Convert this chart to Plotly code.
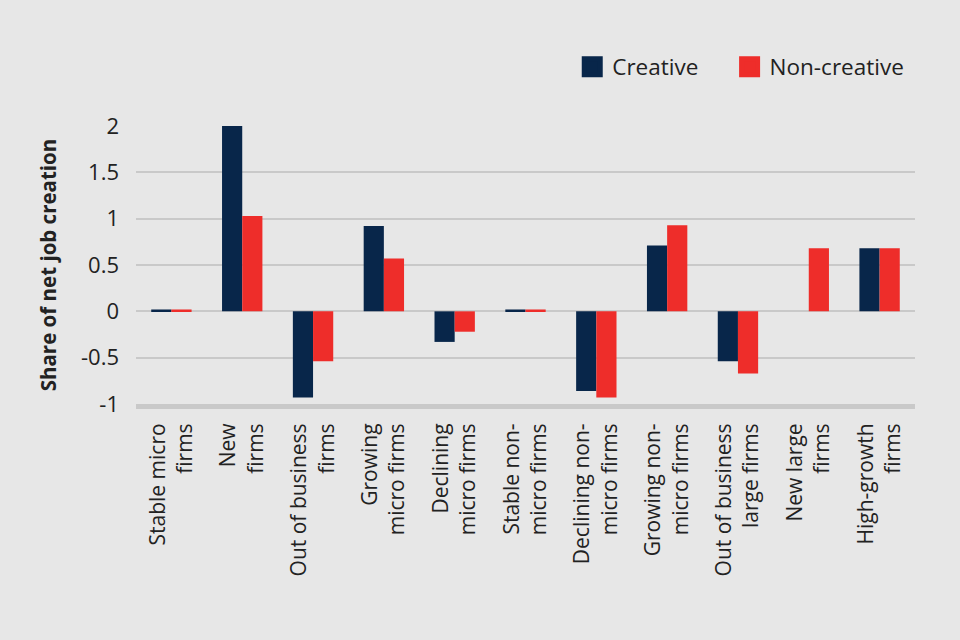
import plotly.graph_objects as go

categories = [
    "Stable micro<br>firms",
    "New<br>firms",
    "Out of business<br>firms",
    "Growing<br>micro firms",
    "Declining<br>micro firms",
    "Stable non-<br>micro firms",
    "Declining non-<br>micro firms",
    "Growing non-<br>micro firms",
    "Out of business<br>large firms",
    "New large<br>firms",
    "High-growth<br>firms",
]
creative = [0.02, 2.0, -0.93, 0.92, -0.33, 0.02, -0.86, 0.71, -0.54, 0.0, 0.68]
non_creative = [0.02, 1.03, -0.54, 0.57, -0.22, 0.02, -0.93, 0.93, -0.67, 0.68, 0.68]
y_ticks = [-1, -0.5, 0, 0.5, 1, 1.5, 2]
y_tick_labels = ["-1", "-0.5", "0", "0.5", "1", "1.5", "2"]

NAVY = "#08264a"
RED = "#ee2d2a"
BG = "#e7e7e7"
GRID = "#c9c9c9"
FONT = "Open Sans"
TEXT = "#222222"

fig = go.Figure()
fig.add_trace(go.Bar(x=categories, y=creative, name="Creative",
                     marker=dict(color=NAVY, line=dict(width=0)), showlegend=False))
fig.add_trace(go.Bar(x=categories, y=non_creative, name="Non-creative",
                     marker=dict(color=RED, line=dict(width=0)), showlegend=False))
# legend entries (one legend each, so they can be spaced like the reference)
fig.add_trace(go.Scatter(x=[None], y=[None], mode="markers", name="Creative",
                         legend="legend",
                         marker=dict(symbol="square", size=16, color=NAVY,
                                     line=dict(color=NAVY, width=5))))
fig.add_trace(go.Scatter(x=[None], y=[None], mode="markers", name="Non-creative",
                         legend="legend2",
                         marker=dict(symbol="square", size=16, color=RED,
                                     line=dict(color=RED, width=5))))

legend_common = dict(orientation="h", xanchor="left", y=1.212, yanchor="middle",
                     font=dict(size=22.5, color=TEXT), bgcolor="rgba(0,0,0,0)",
                     itemwidth=30)

fig.update_layout(
    width=960, height=640,
    paper_bgcolor=BG, plot_bgcolor=BG,
    margin=dict(l=136, r=45, t=126, b=236, autoexpand=False),
    barmode="group", bargap=0.43, bargroupgap=0,
    font=dict(family=FONT, color=TEXT),
    legend=dict(x=0.56, **legend_common),
    legend2=dict(x=0.762, **legend_common),
    showlegend=True,
)
fig.update_xaxes(
    tickangle=-90, tickfont=dict(size=21, color=TEXT),
    showline=True, linecolor=GRID, linewidth=5, showgrid=False,
    ticks="", ticklabelstandoff=6, fixedrange=True,
)
fig.update_yaxes(
    range=[-1, 2], tickvals=y_ticks, ticktext=y_tick_labels,
    tickfont=dict(size=22, color=TEXT),
    showgrid=True, gridcolor=GRID, gridwidth=1.5,
    zeroline=False, showline=False, ticks="", ticklabelstandoff=16,
    title=dict(text="<b>Share of net job creation</b>", font=dict(size=20.5, color=TEXT),
               standoff=18),
    automargin=False, fixedrange=True,
)

fig.write_html(
    "out.html",
    config={"displayModeBar": False},
    post_script="document.body.style.margin='0';document.body.style.background='#e7e7e7';",
)
